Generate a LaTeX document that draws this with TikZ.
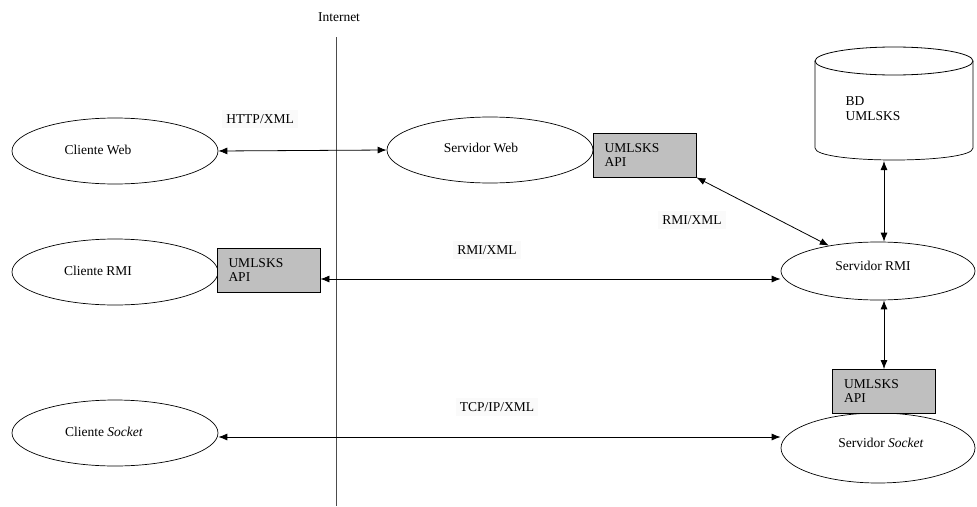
\documentclass[tikz,border=0pt]{standalone}
\usepackage{fontspec}
\setmainfont{Liberation Serif}
\usetikzlibrary{arrows.meta,shapes.geometric}
\begin{document}
\begin{tikzpicture}[x=1pt,y=-1pt,
  line width=0.8pt,
  every node/.style={font=\fontsize{13.5}{16}\selectfont, inner sep=0pt},
  proc/.style={draw, ellipse, line width=0.7pt, minimum width=206pt, minimum height=66pt},
  srv/.style={draw, ellipse, line width=0.7pt, minimum width=194pt, minimum height=58pt},
  api/.style={draw, fill=black!25, line width=0.8pt, minimum width=103pt, minimum height=44pt,
              align=left, text width=80pt, inner xsep=11pt},
  lbl/.style={fill=black!2, inner sep=4pt},
  link/.style={{Latex[length=9pt,width=7pt]}-{Latex[length=9pt,width=7pt]}, line width=0.8pt}
]
\useasboundingbox (0,0) rectangle (977,506);

% Internet boundary
\node (inet) at (339,17) {Internet};
\coordinate (ltop) at (336,37);
\coordinate (lbot) at (336,506);
\draw[line width=0.9pt, black!70] (ltop) -- (lbot);

% Clients
\node[proc] (cweb) at (115,151) {};
\node (cwebt) at (98,150) {Cliente Web};
\node[proc] (crmi) at (115,272) {};
\node (crmit) at (98,271) {Cliente RMI};
\node[proc] (csock) at (115,433) {};
\node (csockt) at (104,432) {Cliente \textit{Socket}};

% Servers
\node[proc] (sweb) at (490,150) {};
\node (swebt) at (481,148) {Servidor Web};
\node[srv] (srmi) at (878,271) {};
\node (srmit) at (873,266) {Servidor RMI};
\node[draw, ellipse, line width=0.7pt, minimum width=194pt, minimum height=70pt] (ssock) at (878,448) {};
\node (ssockt) at (881,443) {Servidor \textit{Socket}};

% API boxes
\node[api] (wapi) at (644.5,155) {UMLSKS\\[-2pt]API};
\node[api] (capi) at (268.5,270) {UMLSKS\\[-2pt]API};
\node[api] (sapi) at (884,391.5) {UMLSKS\\[-2pt]API};

% Database drum: sides with rounded base, then the top rim
\draw[line width=0.7pt] (815,61) -- (815,148)
  .. controls (815,164) and (973,164) .. (973,148) -- (973,61);
\node[draw, ellipse, line width=0.8pt, minimum width=158pt, minimum height=28pt] (bdtop) at (894,61) {};
\node[align=left] (bd) at (873,109) {BD\\[-1pt]UMLSKS};
\coordinate (bdbase) at (884,161);

% Connection labels
\node[lbl] (lhttp) at (260,119) {HTTP/XML};
\node[lbl] (lrmi1) at (692,220) {RMI/XML};
\node[lbl] (lrmi2) at (487,250) {RMI/XML};
\node[lbl] (ltcp) at (497,407) {TCP/IP/XML};

% Connectors
\draw[link] (cweb.east) -- (sweb.west);
\draw[link] (wapi.south east) -- (srmi);
\draw[link] (bdbase) -- (bdbase |- srmi.north);
\draw[link] (capi.east |- 0,279) -- (srmi.west |- 0,279);
\draw[link] (sapi.north |- srmi.south) -- (sapi.north);
\draw[link] (csock.east |- 0,437) -- (ssock.west |- 0,437);
\end{tikzpicture}
\end{document}
